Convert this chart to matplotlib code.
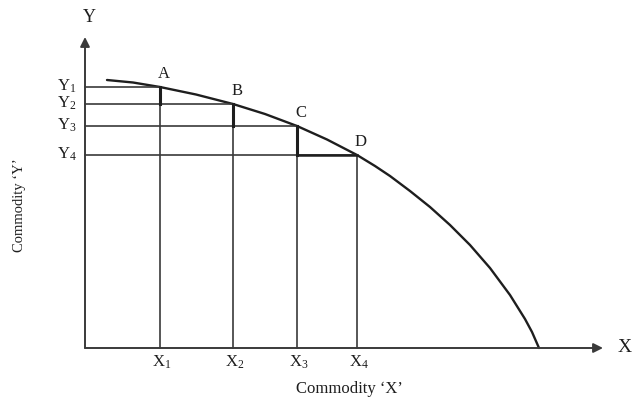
import matplotlib
matplotlib.use("Agg")
import matplotlib.pyplot as plt

plt.rcParams['font.family'] = ['Liberation Serif', 'DejaVu Serif']
plt.rcParams['mathtext.fontset'] = 'custom'
plt.rcParams['mathtext.rm'] = 'Liberation Serif'
plt.rcParams['mathtext.it'] = 'Liberation Serif'

# Production possibility curve (x = commodity X, y = commodity Y)
curve_x = [22, 48, 75, 111, 148, 180, 212, 242, 272, 290, 305, 325, 345, 365, 385,
           405, 425, 440, 447, 454]
curve_y = [268, 265.5, 261, 253.5, 244, 234, 222, 208.5, 193, 182, 172, 157, 141, 123, 103,
           80, 53, 29, 16, 0]

# Points on the curve
point_labels = ['A', 'B', 'C', 'D']
point_x = [75, 148, 212, 272]
point_y = [261, 244, 222, 193]
x_tick_labels = ['X$_1$', 'X$_2$', 'X$_3$', 'X$_4$']
y_tick_labels = ['Y$_1$', 'Y$_2$', 'Y$_3$', 'Y$_4$']

fig = plt.figure(figsize=(6.34, 3.98), dpi=100)
ax = fig.add_axes([0, 0, 1, 1])
ax.set_xlim(-85, 634 - 85)
ax.set_ylim(348 - 398, 348)
ax.axis('off')

lc = '#1e1e1e'
ac = '#3a3a3a'

# axes with arrows
ax.annotate('', xy=(518, 0), xytext=(0, 0),
            arrowprops=dict(arrowstyle='-|>', color=ac, lw=1.4, mutation_scale=14,
                            shrinkA=0, shrinkB=0))
ax.annotate('', xy=(0, 311), xytext=(0, 0),
            arrowprops=dict(arrowstyle='-|>', color=ac, lw=1.4, mutation_scale=14,
                            shrinkA=0, shrinkB=0))

# curve
ax.plot(curve_x, curve_y, color=lc, lw=1.7, solid_capstyle='round', solid_joinstyle='round')

# guide lines
for px, py in zip(point_x, point_y):
    ax.plot([0, px], [py, py], color=ac, lw=1.2)
    ax.plot([px, px], [0, py], color=ac, lw=1.2)

# staircase (bold) segments
for i in range(len(point_x) - 1):
    ax.plot([point_x[i], point_x[i]], [point_y[i], point_y[i + 1]], color=lc, lw=2.2)
ax.plot([point_x[2], point_x[3]], [point_y[3], point_y[3]], color=lc, lw=1.8)

# labels
fs = 12
for lab, px, py in zip(point_labels, point_x, point_y):
    ax.text(px + 4, py + 5, lab, fontsize=fs, ha='center', va='bottom', color=lc)
for lab, px in zip(x_tick_labels, point_x):
    ax.text(px - 8, -19, lab, fontsize=fs, ha='left', va='baseline', color=lc)
for lab, py in zip(y_tick_labels, point_y):
    ax.text(-28, py - 4, lab, fontsize=fs, ha='left', va='baseline', color=lc)

ax.text(4, 330, 'Y', fontsize=fs + 1, ha='center', va='center', color=lc)
ax.text(540, 0, 'X', fontsize=fs + 2, ha='center', va='center', color=lc)
ax.text(264, -41, 'Commodity \u2018X\u2019', fontsize=12, ha='center', va='center', color=lc)
ax.text(-65, 143, 'Commodity \u2018Y\u2019', fontsize=10.5, ha='center', va='center',
        rotation=90, color=lc)

fig.savefig('out.png', dpi=100)
